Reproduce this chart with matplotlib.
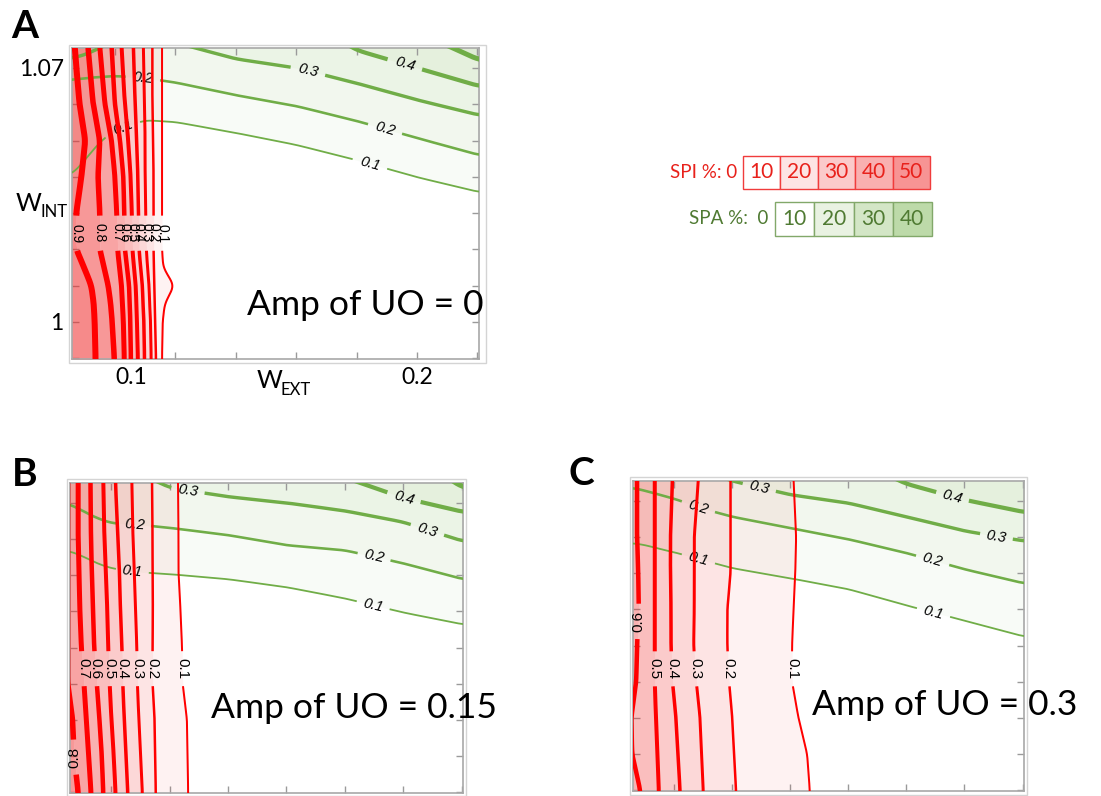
import numpy as np
import matplotlib.pyplot as plt
from matplotlib.patches import Rectangle

plt.rcParams['font.family'] = ['Lato', 'DejaVu Sans']

W, H = 1101, 796


def fx(px):
    return px / W


def fy(py):
    return 1 - py / H


# axis ranges shared by the three panels
X0, X1 = 0.0858, 0.2205
Y0, Y1 = 0.9898, 1.0755

amp_uo = ['0', '0.15', '0.3']

# W_INT rows on which the SPI contours were sampled (top to bottom)
rows_a = [1.0755, 1.06, 1.05, 1.04, 1.03, 1.02, 1.015, 1.01, 1.005, 1.00, 0.99]
rows_bc = [1.0755, 1.06, 1.05, 1.04, 1.03, 1.02, 1.01, 1.00, 0.99]
# W_EXT columns on which the SPA contours were sampled
w_ext_cols = [0.0858, 0.09, 0.095, 0.10, 0.11, 0.12, 0.14, 0.16, 0.18, 0.20, 0.2205]

# SPI contours: W_EXT position of each level on every row
spi_levels_a = [0.1, 0.2, 0.3, 0.4, 0.5, 0.6, 0.7, 0.8, 0.9]
spi_a = [
    [0.1156, 0.1156, 0.1156, 0.1156, 0.1156, 0.1156, 0.1160, 0.1196, 0.1165, 0.1158, 0.1156],
    [0.1124, 0.1124, 0.1126, 0.1128, 0.1128, 0.1128, 0.1129, 0.1131, 0.1132, 0.1133, 0.1136],
    [0.1094, 0.1098, 0.1100, 0.1100, 0.1102, 0.1104, 0.1108, 0.1113, 0.1115, 0.1118, 0.1120],
    [0.1061, 0.1067, 0.1072, 0.1076, 0.1078, 0.1080, 0.1085, 0.1091, 0.1093, 0.1096, 0.1098],
    [0.1022, 0.1033, 0.1044, 0.1052, 0.1056, 0.1058, 0.1063, 0.1069, 0.1071, 0.1073, 0.1076],
    [0.0989, 0.1000, 0.1017, 0.1028, 0.1031, 0.1033, 0.1040, 0.1047, 0.1049, 0.1051, 0.1053],
    [0.0950, 0.0967, 0.0989, 0.1000, 0.1006, 0.1009, 0.1015, 0.1022, 0.1025, 0.1028, 0.1031],
    [0.0911, 0.0928, 0.0950, 0.0944, 0.0950, 0.0950, 0.0964, 0.0978, 0.0986, 0.0991, 0.0998],
    [0.0867, 0.0883, 0.0902, 0.0889, 0.0872, 0.0872, 0.0898, 0.0922, 0.0930, 0.0933, 0.0936],
]
spi_levels_b = [0.1, 0.2, 0.3, 0.4, 0.5, 0.6, 0.7, 0.8]
spi_b = [
    [0.1228, 0.1230, 0.1230, 0.1237, 0.1242, 0.1244, 0.1259, 0.1261, 0.1263],
    [0.1139, 0.1141, 0.1141, 0.1142, 0.1141, 0.1141, 0.1148, 0.1150, 0.1152],
    [0.1070, 0.1074, 0.1079, 0.1083, 0.1087, 0.1089, 0.1094, 0.1100, 0.1106],
    [0.1014, 0.1022, 0.1028, 0.1031, 0.1036, 0.1039, 0.1044, 0.1050, 0.1056],
    [0.0972, 0.0976, 0.0981, 0.0986, 0.0989, 0.0994, 0.1000, 0.1008, 0.1014],
    [0.0928, 0.0930, 0.0933, 0.0937, 0.0941, 0.0950, 0.0959, 0.0967, 0.0972],
    [0.0886, 0.0886, 0.0889, 0.0892, 0.0897, 0.0906, 0.0914, 0.0922, 0.0930],
    [0.0850, 0.0850, 0.0850, 0.0850, 0.0850, 0.0850, 0.0867, 0.0872, 0.0886],
]
spi_levels_c = [0.1, 0.2, 0.3, 0.4, 0.5, 0.6]
spi_c = [
    [0.1411, 0.1420, 0.1417, 0.1411, 0.1406, 0.1406, 0.1428, 0.1458, 0.1467],
    [0.1194, 0.1194, 0.1194, 0.1183, 0.1183, 0.1189, 0.1200, 0.1206, 0.1213],
    [0.1083, 0.1069, 0.1069, 0.1069, 0.1067, 0.1076, 0.1089, 0.1094, 0.1100],
    [0.0994, 0.0987, 0.0987, 0.0989, 0.0989, 0.0994, 0.1006, 0.1013, 0.1020],
    [0.0933, 0.0933, 0.0933, 0.0933, 0.0933, 0.0933, 0.0937, 0.0942, 0.0947],
    [0.0872, 0.0872, 0.0876, 0.0878, 0.0872, 0.0869, 0.0852, 0.0855, 0.0883],
]

# SPA contours: W_INT position of each level on every column
spa_levels_a = [0.1, 0.2, 0.3, 0.4, 0.5]
spa_a = [
    [1.0405, 1.0446, 1.0496, 1.0529, 1.0556, 1.0551, 1.0521, 1.0488, 1.0446, 1.0399, 1.0358],
    [1.0667, 1.0672, 1.0675, 1.0678, 1.0672, 1.0660, 1.0625, 1.0595, 1.0554, 1.0507, 1.0460],
    [1.0727, 1.0736, 1.0755, 1.0775, 1.0780, 1.0770, 1.0725, 1.0700, 1.0658, 1.0612, 1.0570],
    [1.0850, 1.0850, 1.0850, 1.0850, 1.0850, 1.0850, 1.0850, 1.0850, 1.0749, 1.0700, 1.0650],
    [1.0900, 1.0900, 1.0900, 1.0900, 1.0900, 1.0900, 1.0900, 1.0900, 1.0900, 1.0800, 1.0722],
]
spa_levels_b = [0.1, 0.2, 0.3, 0.4, 0.5]
spa_b = [
    [1.0567, 1.0553, 1.0533, 1.0519, 1.0508, 1.0503, 1.0489, 1.0467, 1.0436, 1.0397, 1.0364],
    [1.0697, 1.0678, 1.0658, 1.0644, 1.0639, 1.0631, 1.0611, 1.0583, 1.0569, 1.0533, 1.0489],
    [1.0780, 1.0780, 1.0780, 1.0780, 1.0780, 1.0742, 1.0717, 1.0700, 1.0678, 1.0647, 1.0594],
    [1.0850, 1.0850, 1.0850, 1.0850, 1.0850, 1.0850, 1.0850, 1.0850, 1.0770, 1.0714, 1.0675],
    [1.0900, 1.0900, 1.0900, 1.0900, 1.0900, 1.0900, 1.0900, 1.0900, 1.0900, 1.0850, 1.0742],
]
spa_levels_c = [0.1, 0.2, 0.3, 0.4]
spa_c = [
    [1.0583, 1.0578, 1.0567, 1.0558, 1.0536, 1.0514, 1.0486, 1.0456, 1.0411, 1.0369, 1.0325],
    [1.0736, 1.0728, 1.0717, 1.0706, 1.0678, 1.0656, 1.0625, 1.0594, 1.0556, 1.0511, 1.0472],
    [1.0780, 1.0780, 1.0780, 1.0780, 1.0780, 1.0755, 1.0717, 1.0694, 1.0656, 1.0617, 1.0589],
    [1.0820, 1.0820, 1.0820, 1.0820, 1.0820, 1.0820, 1.0820, 1.0820, 1.0747, 1.0703, 1.0669],
]

# where the contour labels sit (W_INT for SPI, W_EXT for SPA) and how they turn
spi_lab_a = [1.0245] * 9
spi_rot_a = [270] * 9
spi_lab_b = [1.0242] * 7 + [0.9997]
spi_rot_b = [270] * 7 + [90]
spi_lab_c = [1.0236] * 5 + [1.0367]
spi_rot_c = [270] * 5 + [90]
spa_lab_a = [(0.1, 0.1026), (0.2, 0.1093), (0.3, 0.1639), (0.4, 0.1960), (0.2, 0.1894), (0.1, 0.1844)]
spa_lab_b = [(0.3, 0.1262), (0.4, 0.2003), (0.2, 0.1079), (0.3, 0.2083), (0.2, 0.1900),
             (0.1, 0.1072), (0.1, 0.1897)]
spa_lab_c = [(0.3, 0.1293), (0.4, 0.1959), (0.2, 0.1083), (0.3, 0.2110), (0.2, 0.1890),
             (0.1, 0.1083), (0.1, 0.1893)]

# legend swatches
spi_pct = [10, 20, 30, 40, 50]
spa_pct = [10, 20, 30, 40]

RED_FILL = '#f02828'
RED_LINE = '#ff0000'
GREEN_FILL = '#70ad47'
GREEN_LINE = '#70ad47'
LABEL_FONT = ['Liberation Sans', 'DejaVu Sans']


def smooth(v, n=61):
    # round off the corners of a piecewise-linear contour
    k = np.hanning(n)
    k /= k.sum()
    return np.convolve(np.pad(v, n // 2, mode='edge'), k, mode='valid')


def draw_panel(ax, rows, spi_levels, spi_x, spi_lab, spi_rot, spa_levels, spa_y, spa_lab,
               spi_fs=11):
    ax.set_xlim(X0, X1)
    ax.set_ylim(Y0, Y1)
    yy = np.linspace(Y0 - 0.002, Y1 + 0.002, 900)
    xx = np.linspace(X0 - 0.002, X1 + 0.002, 900)
    r_asc = np.array(rows)[::-1]
    red = [smooth(np.interp(yy, r_asc, np.array(v)[::-1])) for v in spi_x]
    green = [smooth(np.interp(xx, w_ext_cols, v)) for v in spa_y]

    # green shading between SPA levels
    for i, lev in enumerate(spa_levels):
        top = green[i + 1] if i + 1 < len(green) else np.full_like(xx, 1.2)
        ax.fill_between(xx, green[i], top, color=GREEN_FILL, alpha=0.45 * lev, lw=0, zorder=1)
    # red shading between SPI levels
    for i, lev in enumerate(spi_levels):
        left = red[i + 1] if i + 1 < len(red) else np.full_like(yy, 0.07)
        ax.fill_betweenx(yy, left, red[i], color=RED_FILL, alpha=0.6 * lev, lw=0, zorder=2)

    # SPA lines with gaps for their labels
    for lev, g in zip(spa_levels, green):
        yline = g.copy()
        for l, x in spa_lab:
            if l == lev:
                yline[np.abs(xx - x) < 0.0056] = np.nan
        ax.plot(xx, yline, color=GREEN_LINE, lw=0.72 * (1 + 8 * lev), zorder=3,
                solid_capstyle='butt')
    for lev, x in spa_lab:
        g = green[spa_levels.index(lev)]
        y = np.interp(x, xx, g)
        p = ax.transData.transform([(x - 0.004, np.interp(x - 0.004, xx, g)),
                                    (x + 0.004, np.interp(x + 0.004, xx, g))])
        ang = np.degrees(np.arctan2(p[1, 1] - p[0, 1], p[1, 0] - p[0, 0]))
        ax.text(x, y, f'{lev:.1f}', rotation=ang, rotation_mode='anchor', ha='center',
                va='center', style='italic', fontsize=10.5, zorder=3, family=LABEL_FONT)

    # SPI lines with gaps for their labels
    for i, (lev, r) in enumerate(zip(spi_levels, red)):
        ly = spi_lab[i]
        xline = r.copy()
        xline[np.abs(yy - ly) < 0.0048] = np.nan
        ax.plot(xline, yy, color=RED_LINE, lw=1.08 + 3.6 * lev, zorder=4,
                solid_capstyle='butt')
        lx = np.interp(ly, yy, r)
        ax.text(lx, ly, f'{lev:.1f}', rotation=spi_rot[i], ha='center', va='center',
                fontsize=spi_fs, zorder=5, family=LABEL_FONT)

    ax.set_xticks([0.10, 0.12, 0.14, 0.16, 0.18, 0.20, 0.22])
    ax.set_yticks([0.99, 1.00, 1.01, 1.02, 1.03, 1.04, 1.05, 1.06, 1.07])
    ax.set_xticklabels([])
    ax.set_yticklabels([])
    ax.tick_params(direction='in', length=5, width=1, color='#9a9a9a', top=True, right=True,
                   labelsize=16.5, pad=6)
    for s in ax.spines.values():
        s.set_color('#a8a8a8')
        s.set_linewidth(1.2)


fig = plt.figure(figsize=(W / 100, H / 100), dpi=100)

# light outer frames around the plots
for x0, y0, x1, y1 in [(69, 45, 486, 363), (67, 479, 466, 796), (630, 477, 1027, 795)]:
    fig.add_artist(Rectangle((fx(x0), fy(y1)), (x1 - x0) / W, (y1 - y0) / H,
                             transform=fig.transFigure, fill=False, ec='#d4d4d4', lw=1))

ax_a = fig.add_axes([fx(72), fy(359), 407 / W, 311 / H])
draw_panel(ax_a, rows_a, spi_levels_a, spi_a, spi_lab_a, spi_rot_a, spa_levels_a, spa_a, spa_lab_a,
           spi_fs=10)
ax_a.set_xticklabels(['0.1', '', '', '', '', '0.2', ''])
ax_a.set_yticklabels(['', '1', '', '', '', '', '', '', '1.07'])
ax_a.get_xticklabels()[0].set_ha('left')

ax_b = fig.add_axes([fx(70), fy(793), 393 / W, 310 / H])
draw_panel(ax_b, rows_bc, spi_levels_b, spi_b, spi_lab_b, spi_rot_b, spa_levels_b, spa_b, spa_lab_b)

ax_c = fig.add_axes([fx(633), fy(791), 391 / W, 310 / H])
draw_panel(ax_c, rows_bc, spi_levels_c, spi_c, spi_lab_c, spi_rot_c, spa_levels_c, spa_c, spa_lab_c)

# panel letters and amplitude captions
for letter, (px, py) in zip('ABC', [(11, 38), (12, 486), (569, 485)]):
    fig.text(fx(px), fy(py), letter, fontsize=28, fontweight='bold', va='baseline')
for amp, (px, py) in zip(amp_uo, [(247, 315), (211, 718), (812, 715)]):
    fig.text(fx(px), fy(py), f'Amp of UO = {amp}', fontsize=25.5, va='baseline')

# axis names
fig.text(fx(16), fy(211), 'W', fontsize=18, va='baseline')
fig.text(fx(40), fy(217), 'INT', fontsize=12, va='baseline')
fig.text(fx(257), fy(388), 'W', fontsize=18, va='baseline')
fig.text(fx(281), fy(395), 'EXT', fontsize=12, va='baseline')

# legend of the shading levels
spi_fill = ['#ffffff', '#fde4e4', '#fbcaca', '#f9b0b0', '#f79494']
spa_fill = ['#ffffff', '#e9f2e2', '#d3e6c6', '#bddaa9']

leg_spi = fig.add_axes([fx(743), fy(189), 187 / W, 33 / H])
leg_spi.bar(range(len(spi_pct)), [1] * len(spi_pct), width=1, color=spi_fill,
            edgecolor='#f03c3c', linewidth=1, clip_on=False)
for i, v in enumerate(spi_pct):
    leg_spi.text(i, 0.5, str(v), ha='center', va='center', color='#e8211b', fontsize=15)
leg_spi.set_xlim(-0.5, len(spi_pct) - 0.5)
leg_spi.set_ylim(0, 1)
leg_spi.axis('off')
fig.text(fx(737), fy(172), 'SPI %: 0', ha='right', va='center', color='#e8211b', fontsize=13.5)

leg_spa = fig.add_axes([fx(775), fy(236), 157 / W, 34 / H])
leg_spa.bar(range(len(spa_pct)), [1] * len(spa_pct), width=1, color=spa_fill,
            edgecolor='#82a86a', linewidth=1, clip_on=False)
for i, v in enumerate(spa_pct):
    leg_spa.text(i, 0.5, str(v), ha='center', va='center', color='#4f7a32', fontsize=15)
leg_spa.set_xlim(-0.5, len(spa_pct) - 0.5)
leg_spa.set_ylim(0, 1)
leg_spa.axis('off')
fig.text(fx(768), fy(219), 'SPA %:  0', ha='right', va='center', color='#4f7a32', fontsize=13.5)

fig.savefig('out.png', dpi=100)
